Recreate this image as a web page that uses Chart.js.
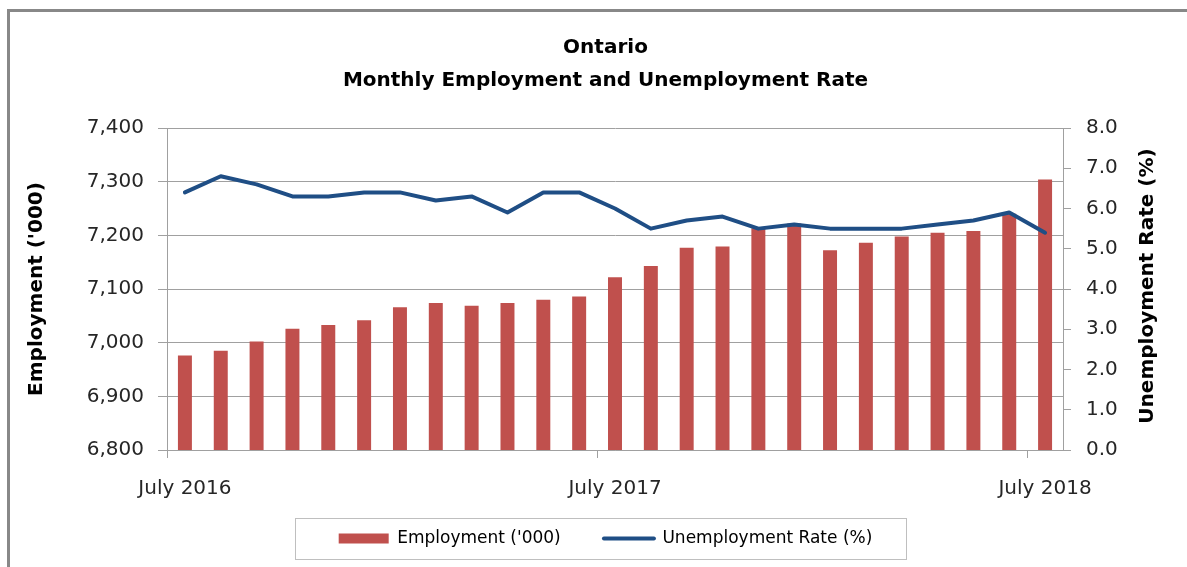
<!DOCTYPE html>
<html>
<head>
<meta charset="utf-8">
<script src="https://cdn.jsdelivr.net/npm/chart.js@4/dist/chart.umd.min.js"></script>
<style>
  html, body { margin: 0; padding: 0; background: #fff; overflow: hidden; }
  #wrap { position: absolute; left: 0; top: 0; width: 1187px; height: 567px; }
</style>
</head>
<body>
<div id="wrap"><canvas id="chart" width="1187" height="567"></canvas></div>
<script>
// months Jul 2016 .. Jul 2018
const months = [
  'July 2016', 'August 2016', 'September 2016', 'October 2016', 'November 2016', 'December 2016',
  'January 2017', 'February 2017', 'March 2017', 'April 2017', 'May 2017', 'June 2017',
  'July 2017', 'August 2017', 'September 2017', 'October 2017', 'November 2017', 'December 2017',
  'January 2018', 'February 2018', 'March 2018', 'April 2018', 'May 2018', 'June 2018',
  'July 2018'
];
// employment, thousands
const employment = [
  6976, 6985, 7002, 7026, 7033, 7042, 7066, 7074, 7069, 7074, 7080, 7086,
  7122, 7143, 7177, 7179, 7213, 7222, 7172, 7186, 7198, 7205, 7208, 7240,
  7304
];
// unemployment rate, %
const unemploymentRate = [
  6.4, 6.8, 6.6, 6.3, 6.3, 6.4, 6.4, 6.2, 6.3, 5.9, 6.4, 6.4,
  6.0, 5.5, 5.7, 5.8, 5.5, 5.6, 5.5, 5.5, 5.5, 5.6, 5.7, 5.9,
  5.4
];
const shownLabels = ['July 2016', 'July 2017', 'July 2018'];

const FONT = "'DejaVu Sans', sans-serif";
const TXT = '#262626';
const GRID = '#a0a0a0';
const RED = '#c0504d';
const BLUE = '#1f4e85';

// frame around the chart and box around legend, plus right axis title (reads bottom-up)
const decor = {
  id: 'decor',
  beforeDraw(chart) {
    const c = chart.ctx;
    c.save();
    c.strokeStyle = '#888';
    c.lineWidth = 3;
    c.strokeRect(8.5, 10.5, 1300, 700);
    c.restore();
  },
  afterDraw(chart) {
    const c = chart.ctx;
    const lg = chart.legend;
    if (lg && lg.legendHitBoxes && lg.legendHitBoxes.length) {
      const hb = lg.legendHitBoxes;
      const x0 = hb[0].left - 44;
      const x1 = hb[hb.length - 1].left + hb[hb.length - 1].width + 33;
      const yc = hb[0].top + hb[0].height / 2;
      c.save();
      c.strokeStyle = '#bfbfbf';
      c.lineWidth = 1;
      c.strokeRect(Math.round(x0) + 0.5, Math.round(yc - 21) + 0.5, Math.round(x1 - x0), 41);
      c.restore();
    }
    const a = chart.chartArea;
    c.save();
    c.translate(1148, (a.top + a.bottom) / 2 - 3);
    c.rotate(-Math.PI / 2);
    c.font = 'bold 20px ' + FONT;
    c.fillStyle = '#000';
    c.textAlign = 'center';
    c.textBaseline = 'middle';
    c.fillText('Unemployment Rate (%)', 0, 0);
    c.restore();
  }
};

new Chart(document.getElementById('chart'), {
  type: 'bar',
  data: {
    labels: months,
    datasets: [
      {
        type: 'bar',
        label: "Employment ('000)",
        data: employment,
        backgroundColor: RED,
        yAxisID: 'y',
        categoryPercentage: 1,
        barPercentage: 0.39,
        order: 2
      },
      {
        type: 'line',
        label: 'Unemployment Rate (%)',
        data: unemploymentRate,
        borderColor: BLUE,
        borderWidth: 4,
        pointRadius: 0,
        tension: 0,
        borderCapStyle: 'round',
        borderJoinStyle: 'round',
        yAxisID: 'y1',
        order: 1
      }
    ]
  },
  options: {
    responsive: false,
    animation: false,
    devicePixelRatio: 1,
    layout: { padding: { left: 24, right: 0, top: 0, bottom: 10 } },
    plugins: {
      tooltip: { enabled: false },
      title: {
        display: true,
        text: ['Ontario', 'Monthly Employment and Unemployment Rate'],
        color: '#000',
        font: { family: FONT, size: 20, weight: 'bold', lineHeight: 1.65 },
        padding: { top: 31, bottom: 31 }
      },
      legend: {
        position: 'bottom',
        labels: {
          color: TXT,
          font: { family: FONT, size: 17 },
          usePointStyle: true,
          pointStyleWidth: 50,
          boxWidth: 50,
          boxHeight: 10,
          padding: 27,
          generateLabels(chart) {
            return [
              { text: "Employment ('000)   ", pointStyle: 'rect', fillStyle: RED, strokeStyle: RED, lineWidth: 0, datasetIndex: 0 },
              { text: 'Unemployment Rate (%)', pointStyle: 'line', fillStyle: BLUE, strokeStyle: BLUE, lineWidth: 4, lineCap: 'round', datasetIndex: 1 }
            ];
          }
        }
      }
    },
    scales: {
      x: {
        offset: true,
        grid: {
          offset: true,
          drawOnChartArea: false,
          tickLength: 8,
          color: ctx => (ctx.index % 12 === 0 ? GRID : 'rgba(0,0,0,0)')
        },
        border: { color: GRID },
        ticks: {
          autoSkip: false,
          maxRotation: 0,
          color: TXT,
          padding: 19,
          font: { family: FONT, size: 20 },
          callback: (v, i) => (shownLabels.includes(months[i]) ? months[i] : '')
        },
        afterFit: s => { s.height = 53; }
      },
      y: {
        position: 'left',
        min: 6800,
        max: 7400,
        grid: { color: GRID, tickLength: 9 },
        border: { color: GRID },
        ticks: {
          stepSize: 100,
          color: TXT,
          padding: 14,
          font: { family: FONT, size: 20 },
          callback: v => v.toLocaleString('en-US')
        },
        title: {
          display: true,
          text: "Employment ('000)",
          color: '#000',
          font: { family: FONT, size: 20, weight: 'bold' },
          padding: { top: 1, bottom: 0 }
        },
        afterFit: s => { s.width = 143; }
      },
      y1: {
        position: 'right',
        min: 0,
        max: 8,
        grid: { drawOnChartArea: false, color: GRID, tickLength: 8 },
        border: { color: GRID },
        ticks: {
          stepSize: 1,
          color: TXT,
          padding: 15,
          font: { family: FONT, size: 20 },
          callback: v => v.toFixed(1)
        },
        afterFit: s => { s.width = 124; }
      }
    }
  },
  plugins: [decor]
});
</script>
</body>
</html>
